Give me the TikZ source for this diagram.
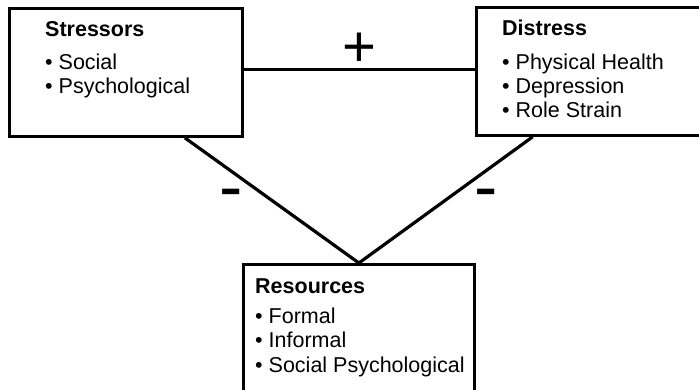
\documentclass[tikz,border=0pt]{standalone}
\usepackage{fontspec}
\setmainfont{Liberation Sans}
\usetikzlibrary{calc}
\begin{document}
\begin{tikzpicture}[x=1pt,y=-1pt,
  box/.style={draw=black, line width=2.8pt, inner sep=0pt, anchor=north west},
  link/.style={draw=black, line width=3.2pt},
  item/.style={inner sep=0pt, anchor=base west, font=\fontsize{21.5}{24}\selectfont},
  head/.style={item, font=\fontsize{21.5}{24}\selectfont\bfseries},
  sign/.style={inner sep=0pt, anchor=center}]
\useasboundingbox (0,0) rectangle (699,389);

% boxes
\node[box, minimum width=233pt, minimum height=128pt] (stress) at (8,7) {};
\node[box, minimum width=228pt, minimum height=128pt] (distress) at (475,6) {};
\node[box, minimum width=231pt, minimum height=140pt] (res) at (242,263) {};

% Stressors
\node[head] (st0) at (45,36) {Stressors};
\node[item] (st1) at (45,69) {• Social};
\node[item] (st2) at (45,93) {• Psychological};

% Distress
\node[head] (di0) at (502,35) {Distress};
\node[item] (di1) at (502,69) {• Physical Health};
\node[item] (di2) at (502,93) {• Depression};
\node[item] (di3) at (502,117) {• Role Strain};

% Resources
\node[head] (re0) at (255,293) {Resources};
\node[item] (re1) at (255,323) {• Formal};
\node[item] (re2) at (255,347.5) {• Informal};
\node[item] (re3) at (255,372) {• Social Psychological};

% connectors
\draw[link] ([yshift=3pt]stress.east) -- ([yshift=3pt]stress.east -| distress.west);
\draw[link] ($(stress.south west)!0.75!(stress.south east)$) -- (res.north);
\draw[link] ($(distress.south west)!0.25!(distress.south east)$) -- (res.north);

% signs
\node[sign, font=\fontsize{58}{58}\selectfont] (plus) at (359,50) {+};
\node[sign, font=\fontsize{70}{70}\selectfont] (minusl) at (231,200) {-};
\node[sign, font=\fontsize{70}{70}\selectfont] (minusr) at (486,200) {-};
\end{tikzpicture}
\end{document}
